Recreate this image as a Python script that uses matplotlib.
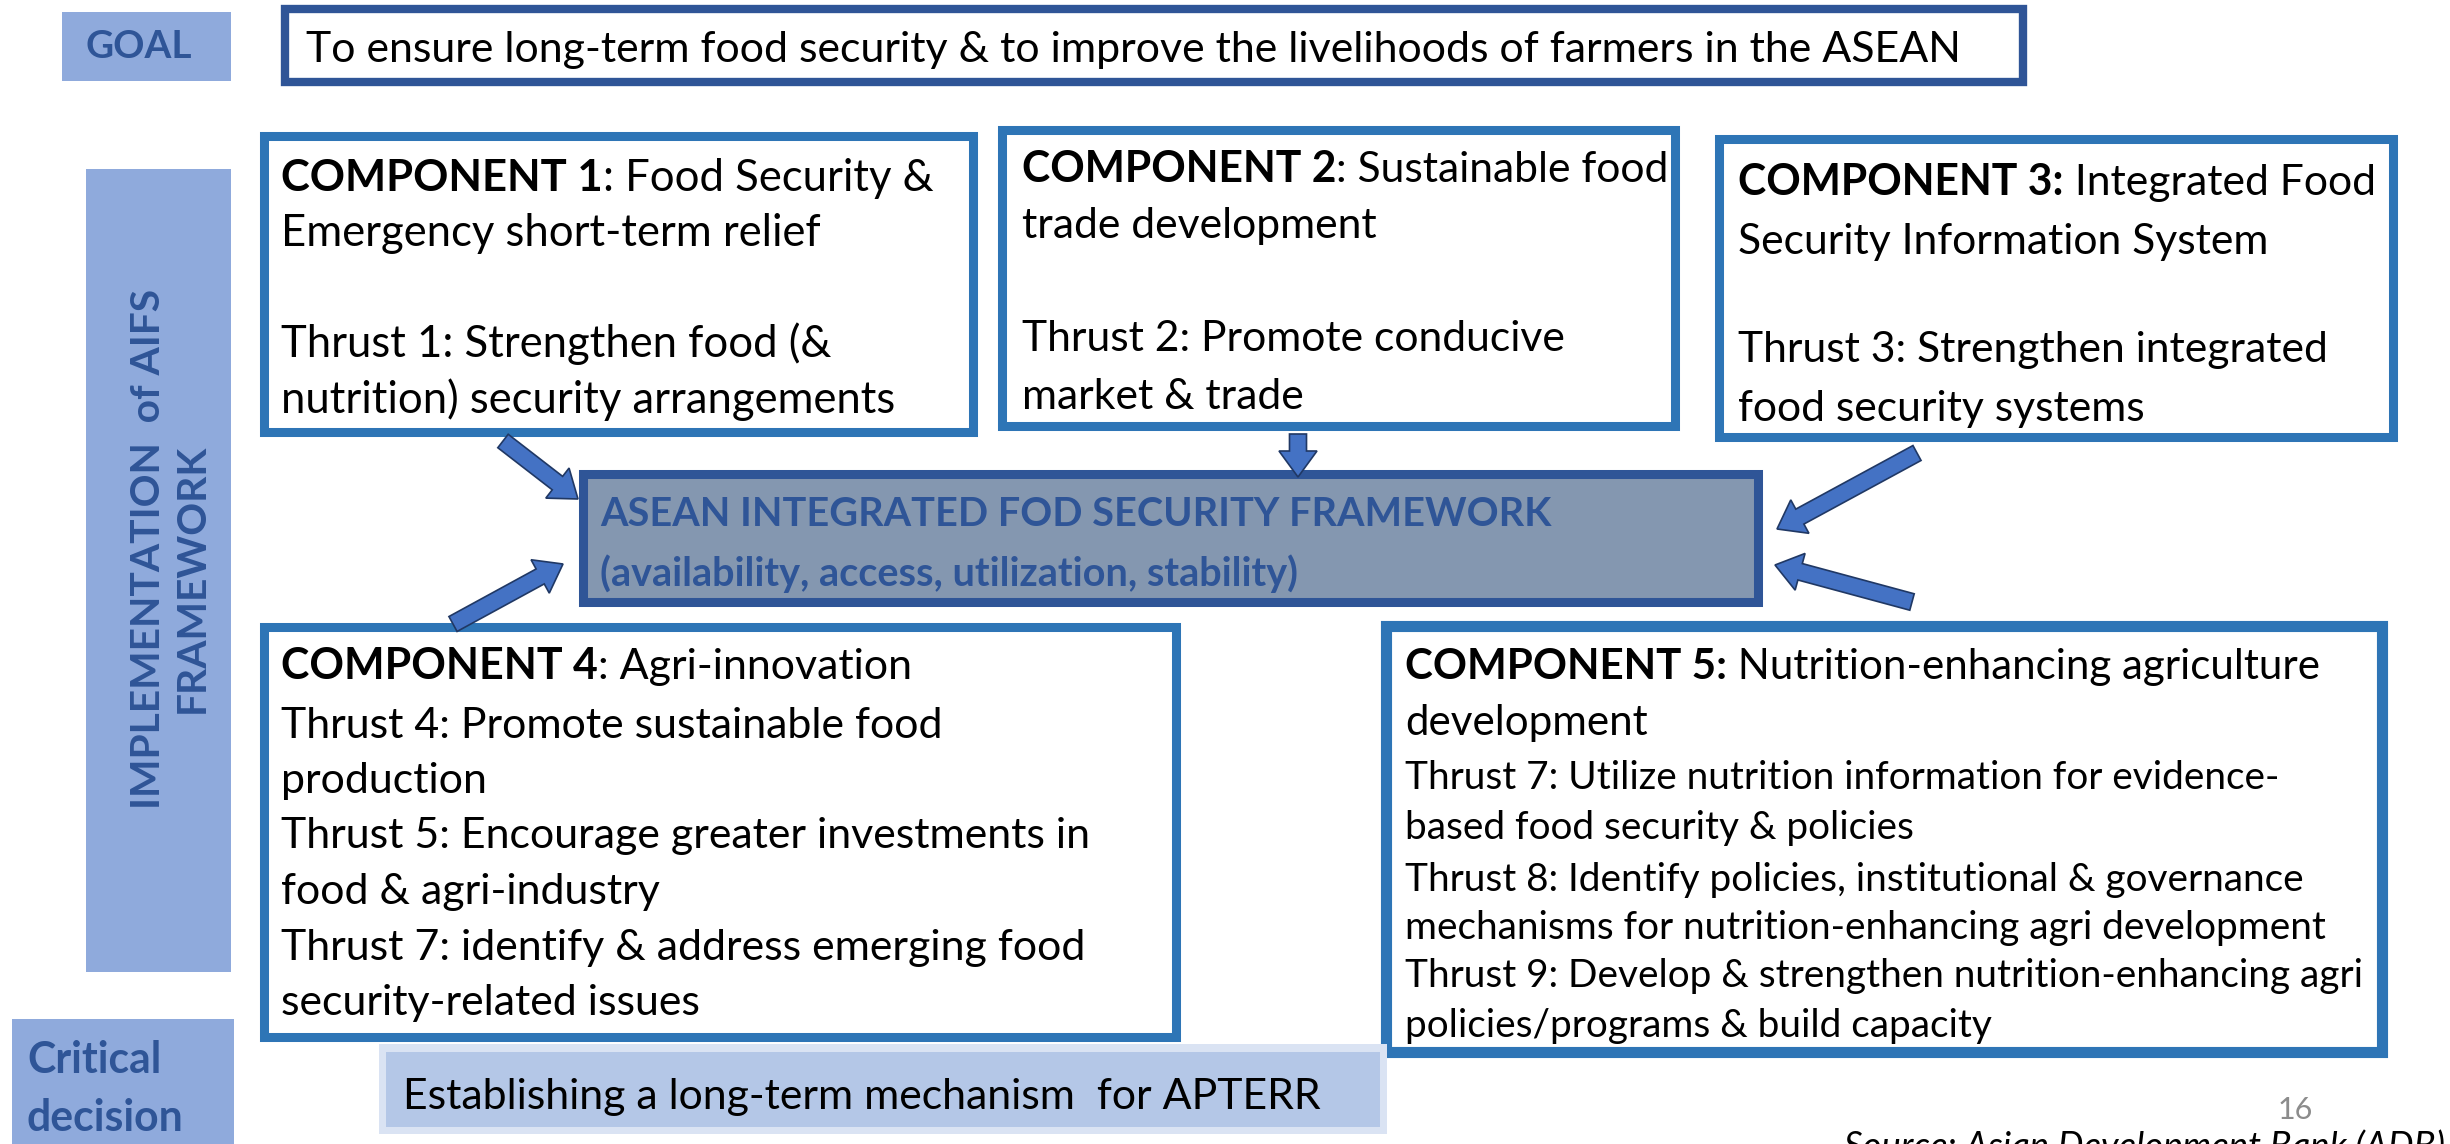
import matplotlib
matplotlib.use("Agg")
import matplotlib.pyplot as plt
from matplotlib.patches import Rectangle, FancyArrow

W, H = 2450, 1144
FONT = ['Liberation Sans Narrow', 'Lato', 'DejaVu Sans']

# colours taken from the slide
DARK = '#2F5597'
MID = '#2E75B6'
LABEL_FILL = '#8FAADC'
CENTER_FILL = '#8497B0'
ARROW_FILL = '#4472C4'
EST_FILL = '#B4C7E7'
EST_HALO = '#DAE3F3'

# --- texts ---
goal_label = "GOAL"
goal_text = "To ensure long-term food security & to improve the livelihoods of farmers in the ASEAN"
side_label = ["IMPLEMENTATION  of AIFS", "FRAMEWORK"]
critical_label = ["Critical", "decision"]
center_lines = ["ASEAN INTEGRATED FOD SECURITY FRAMEWORK",
                "(availability, access, utilization, stability)"]
decision_text = "Establishing a long-term mechanism  for APTERR"
page_number = "16"
source_text = "Source: Asian Development Bank (ADB)"

comp_heads = ["COMPONENT 1", "COMPONENT 2", "COMPONENT 3:", "COMPONENT 4", "COMPONENT 5:"]
comp1_lines = [": Food Security &", "Emergency short-term relief",
               "Thrust 1: Strengthen food (&", "nutrition) security arrangements"]
comp2_lines = [": Sustainable food", "trade development",
               "Thrust 2: Promote conducive", "market & trade"]
comp3_lines = [" Integrated Food", "Security Information System",
               "Thrust 3: Strengthen integrated", "food security systems"]
comp4_lines = [": Agri-innovation", "Thrust 4: Promote sustainable food", "production",
               "Thrust 5: Encourage greater investments in", "food & agri-industry",
               "Thrust 7: identify & address emerging food", "security-related issues"]
comp5_title = [" Nutrition-enhancing agriculture", "development"]
comp5_thrusts = ["Thrust 7: Utilize nutrition information for evidence-",
                 "based food security & policies",
                 "Thrust 8: Identify policies, institutional & governance",
                 "mechanisms for nutrition-enhancing agri development",
                 "Thrust 9: Develop & strengthen nutrition-enhancing agri",
                 "policies/programs & build capacity"]

fig = plt.figure(figsize=(W / 100, H / 100), dpi=100)
ax = fig.add_axes([0, 0, 1, 1])
ax.set_xlim(0, W)
ax.set_ylim(H, 0)
ax.axis('off')
renderer = fig.canvas.get_renderer()


def text_width(s, size, weight='normal', style='normal'):
    t = ax.text(0, 0, s, fontsize=size, fontweight=weight, fontstyle=style, family=FONT)
    w = t.get_window_extent(renderer).width
    t.remove()
    return w


def fit(parts, target):
    # font size (pt) so that the run of parts is target px wide
    w = sum(text_width(s, 20, wt, st) for s, wt, st in parts)
    return 20 * target / w


def put_runs(x, yc, parts, size, color='black'):
    # yc is the visual centre of the line, convert to baseline
    y = yc + 0.5 * size
    for s, wt in parts:
        t = ax.text(x, y, s, fontsize=size, fontweight=wt, family=FONT,
                    color=color, va='baseline', ha='left')
        x = t.get_window_extent(renderer).x1


def box(x0, y0, x1, y1, edge, lw, fill='white', z=2):
    ax.add_patch(Rectangle((x0, y0), x1 - x0, y1 - y0, facecolor=fill,
                           edgecolor=edge, linewidth=lw, zorder=z, joinstyle='miter'))


def arrow(x0, y0, x1, y1):
    ax.add_patch(FancyArrow(x0, y0, x1 - x0, y1 - y0, width=17, head_width=38,
                            head_length=26, length_includes_head=True,
                            facecolor=ARROW_FILL, edgecolor='#203864', linewidth=1.2, zorder=5))


# --- goal row ---
box(62, 12, 231, 81, 'none', 0, LABEL_FILL)
s = fit([(goal_label, 'bold', 'normal')], 106)
ax.text(139, 47, goal_label, fontsize=s, fontweight='bold', family=FONT, color=DARK,
        ha='center', va='center')
box(285, 9, 2023, 82, DARK, 6)
s = fit([(goal_text, 'normal', 'normal')], 1660)
put_runs(306, 47, [(goal_text, 'normal')], s)

# --- side label ---
box(86, 169, 231, 972, 'none', 0, LABEL_FILL)
s = fit([(side_label[0], 'bold', 'normal')], 520)
ax.text(148, 549, side_label[0], fontsize=s, fontweight='bold', family=FONT, color=DARK,
        rotation=90, ha='center', va='center')
ax.text(192, 578, side_label[1], fontsize=s, fontweight='bold', family=FONT, color=DARK,
        rotation=90, ha='center', va='center')

# --- component boxes, top row ---
box(264, 136, 973, 432, MID, 6.5)
box(1002, 130, 1675, 426, MID, 6.5)
box(1719, 139, 2393, 437, MID, 6.5)

s1 = fit([(comp1_lines[3], 'normal', 'normal')], 617)
put_runs(281, 175, [(comp_heads[0], 'bold'), (comp1_lines[0], 'normal')], s1)
for line, yc in zip(comp1_lines[1:], [230, 341, 397]):
    put_runs(281, yc, [(line, 'normal')], s1)

s2 = fit([(comp2_lines[2], 'normal', 'normal')], 545)
put_runs(1022, 167, [(comp_heads[1], 'bold'), (comp2_lines[0], 'normal')], s2)
for line, yc in zip(comp2_lines[1:], [223, 336, 394]):
    put_runs(1022, yc, [(line, 'normal')], s2)

s3 = fit([(comp3_lines[2], 'normal', 'normal')], 593)
put_runs(1738, 180, [(comp_heads[2], 'bold'), (comp3_lines[0], 'normal')], s3)
for line, yc in zip(comp3_lines[1:], [239, 347, 406]):
    put_runs(1738, yc, [(line, 'normal')], s3)

# --- central framework box ---
box(583, 474, 1758, 602, DARK, 6.5, CENTER_FILL)
sc = fit([(center_lines[0], 'bold', 'normal')], 950)
for line, yc in zip(center_lines, [512, 572]):
    put_runs(600, yc, [(line, 'bold')], sc, color=DARK)

# --- bottom row ---
box(264, 627, 1176, 1037, MID, 6.5)
s4 = fit([(comp4_lines[3], 'normal', 'normal')], 813)
put_runs(281, 664, [(comp_heads[3], 'bold'), (comp4_lines[0], 'normal')], s4)
for line, yc in zip(comp4_lines[1:], [723, 778, 833, 889, 945, 1000]):
    put_runs(281, yc, [(line, 'normal')], s4)

box(1386, 626, 2382, 1052, MID, 8)
s5 = fit([(comp_heads[4], 'bold', 'normal'), (comp5_title[0], 'normal', 'normal')], 918)
put_runs(1405, 664, [(comp_heads[4], 'bold'), (comp5_title[0], 'normal')], s5)
put_runs(1405, 720, [(comp5_title[1], 'normal')], s5)
s5b = fit([(comp5_thrusts[3], 'normal', 'normal')], 923)
for line, yc in zip(comp5_thrusts, [775, 825, 877, 925, 973, 1023]):
    put_runs(1405, yc, [(line, 'normal')], s5b)

# --- arrows into the framework ---
arrow(503, 441, 578, 499)
arrow(1298, 434, 1298, 477)
arrow(1917, 453, 1777, 529)
arrow(453, 624, 563, 564)
arrow(1912, 602, 1775, 565)

# --- critical decision ---
box(12, 1019, 234, 1150, 'none', 0, LABEL_FILL)
sd = fit([(critical_label[1], 'bold', 'normal')], 157)
for line, yc in zip(critical_label, [1058, 1116]):
    put_runs(27, yc, [(line, 'bold')], sd, color=DARK)

box(379, 1044, 1387, 1134, 'none', 0, EST_HALO)
box(386, 1052, 1380, 1127, 'none', 0, EST_FILL, z=3)
se = fit([(decision_text, 'normal', 'normal')], 920)
ax.text(403, 1094 + 0.5 * se, decision_text, fontsize=se, family=FONT, va='baseline', zorder=4)

# --- footer ---
ax.text(2295, 1110, page_number, fontsize=22, family=FONT, color='#8C8C8C',
        ha='center', va='center')
ss = fit([(source_text, 'normal', 'italic')], 600)
ax.text(1844, 1129, source_text, fontsize=ss, family=FONT, fontstyle='italic',
        ha='left', va='top')

fig.savefig('out.png', dpi=100)
